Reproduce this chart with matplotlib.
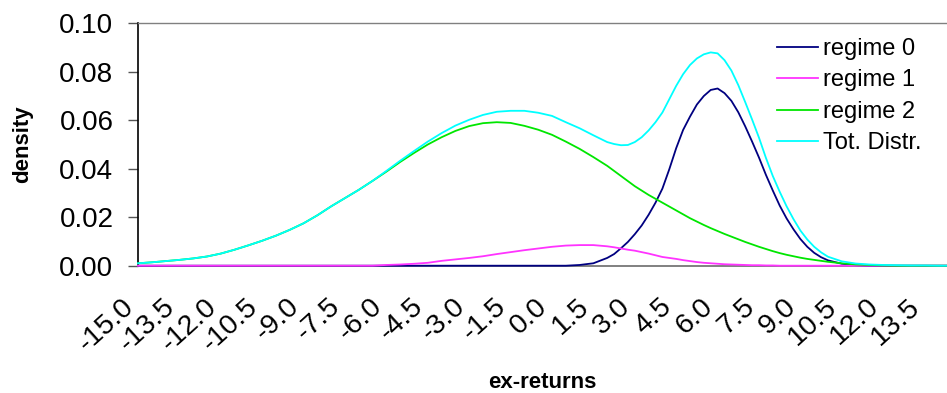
import matplotlib
matplotlib.use("Agg")
import matplotlib.pyplot as plt
import matplotlib.transforms as mtransforms
import numpy as np

plt.rcParams['font.family'] = ['Liberation Sans', 'DejaVu Sans']

# grid of ex-returns on which the densities are evaluated (finer around the right-hand peak)
ex_returns = np.concatenate([
    np.arange(-15.0, 2.0, 0.5),
    np.arange(2.0, 10.0, 0.25),
    np.arange(10.0, 14.51, 0.5),
])

regime_0 = [
    # -15.0 .. 1.5 (step 0.5)
    0.0, 0.0, 0.0, 0.0, 0.0, 0.0, 0.0, 0.0, 0.0, 0.0,
    0.0, 0.0, 0.0, 0.0, 0.0, 0.0, 0.0, 0.0, 0.0, 0.0,
    0.0, 0.0, 0.0, 0.0, 0.0, 0.0, 0.0, 0.0, 0.0, 0.0,
    0.0, 0.0, 0.0003, 0.0010,
    # 2.0 .. 9.75 (step 0.25)
    0.0032, 0.0048, 0.0072, 0.0098, 0.0130, 0.0166, 0.0210, 0.0260,
    0.0318, 0.0398, 0.0485, 0.0560, 0.0615, 0.0665, 0.0700, 0.0725,
    0.0731, 0.0712, 0.0680, 0.0633, 0.0575, 0.0512, 0.0446, 0.0375,
    0.0310, 0.0248, 0.0195, 0.0150, 0.0110, 0.0078, 0.0053, 0.0035,
    # 10.0 .. 14.5 (step 0.5)
    0.0022, 0.0008, 0.0002, 0.0, 0.0, 0.0, 0.0, 0.0, 0.0, 0.0,
]

regime_1 = [
    0.0, 0.0, 0.0, 0.0, 0.0, 0.0, 0.0, 0.0, 0.0, 0.0,
    0.0, 0.0, 0.0, 0.0, 0.0, 0.0, 0.0, 0.0, 0.0003, 0.0005,
    0.0008, 0.0012, 0.0020, 0.0026, 0.0032, 0.0039, 0.0048, 0.0056, 0.0064, 0.0071,
    0.0078, 0.0083, 0.0085, 0.0085,
    0.0080, 0.0076, 0.0071, 0.0066, 0.0062, 0.0056, 0.0050, 0.0043,
    0.0036, 0.0032, 0.0028, 0.0023, 0.0019, 0.0015, 0.0012, 0.0010,
    0.0008, 0.0006, 0.0005, 0.0004, 0.0003, 0.0002, 0.0002, 0.0001,
    0.0001, 0.0, 0.0, 0.0, 0.0, 0.0, 0.0, 0.0,
    0.0, 0.0, 0.0, 0.0, 0.0, 0.0, 0.0, 0.0, 0.0, 0.0,
]

regime_2 = [
    0.0010, 0.0014, 0.0019, 0.0024, 0.0030, 0.0038, 0.0050, 0.0066, 0.0084, 0.0103,
    0.0124, 0.0148, 0.0175, 0.0208, 0.0245, 0.0279, 0.0313, 0.0350, 0.0388, 0.0428,
    0.0465, 0.0500, 0.0530, 0.0556, 0.0576, 0.0588, 0.0592, 0.0589, 0.0577, 0.0561,
    0.0540, 0.0512, 0.0482, 0.0448,
    0.0412, 0.0391, 0.0370, 0.0349, 0.0328, 0.0310, 0.0292, 0.0276,
    0.0260, 0.0244, 0.0228, 0.0212, 0.0196, 0.0182, 0.0168, 0.0155,
    0.0143, 0.0131, 0.0120, 0.0109, 0.0098, 0.0088, 0.0078, 0.0069,
    0.0060, 0.0052, 0.0045, 0.0039, 0.0033, 0.0028, 0.0024, 0.0020,
    0.0016, 0.0010, 0.0005, 0.0003, 0.0001, 0.0, 0.0, 0.0, 0.0, 0.0,
]

tot_distr = [
    0.0010, 0.0014, 0.0019, 0.0024, 0.0030, 0.0038, 0.0050, 0.0066, 0.0084, 0.0103,
    0.0124, 0.0148, 0.0175, 0.0208, 0.0245, 0.0279, 0.0313, 0.0350, 0.0391, 0.0433,
    0.0473, 0.0512, 0.0547, 0.0578, 0.0602, 0.0622, 0.0635, 0.0639, 0.0639, 0.0631,
    0.0618, 0.0592, 0.0567, 0.0538,
    0.0510, 0.0502, 0.0497, 0.0498, 0.0510, 0.0530, 0.0558, 0.0592,
    0.0632, 0.0687, 0.0742, 0.0790, 0.0828, 0.0855, 0.0872, 0.0880,
    0.0876, 0.0848, 0.0805, 0.0745, 0.0675, 0.0603, 0.0528, 0.0445,
    0.0370, 0.0305, 0.0245, 0.0192, 0.0145, 0.0108, 0.0078, 0.0055,
    0.0037, 0.0018, 0.0009, 0.0005, 0.0003, 0.0002, 0.0001, 0.0001, 0.0, 0.0,
]

series_names = ["regime 0", "regime 1", "regime 2", "Tot. Distr."]
series_colors = ["#000080", "#ff33ff", "#00e600", "#00ffff"]

tick_values = np.arange(-15.0, 13.51, 1.5)
tick_labels = [f"{v:.1f}" for v in tick_values]
y_ticks = [0.00, 0.02, 0.04, 0.06, 0.08, 0.10]

W, H = 947, 393
fig = plt.figure(figsize=(W / 100, H / 100), dpi=100)
left_px, right_px, top_px, bottom_px = 138, 947, 23.3, 265.7
ax = fig.add_axes([left_px / W, 1 - bottom_px / H,
                   (right_px - left_px) / W, (bottom_px - top_px) / H])

for values, name, color in zip([regime_0, regime_1, regime_2, tot_distr],
                               series_names, series_colors):
    ax.plot(ex_returns, values, color=color, lw=1.3, label=name,
            clip_on=False, zorder=3)

ax.set_xlim(-15.0, -15.0 + (right_px - left_px) / 27.6)
ax.set_ylim(0.0, 0.10)

ax.set_yticks(y_ticks)
ax.set_yticklabels([f"{v:.2f}" for v in y_ticks], fontsize=20)
ax.tick_params(axis='y', direction='out', length=7.2, width=1.0,
               color='#555555', pad=10.5)

ax.set_xticks(tick_values)
ax.set_xticklabels(tick_labels, fontsize=20.5, rotation=42,
                   ha='right', va='center', rotation_mode='anchor')
ax.tick_params(axis='x', length=0, pad=27)
shift = mtransforms.ScaledTranslation(-8 / 100, 0, fig.dpi_scale_trans)
for lab in ax.get_xticklabels():
    lab.set_transform(lab.get_transform() + shift)

for side in ('top', 'bottom'):
    ax.spines[side].set_color('#808080')
ax.spines['top'].set_linewidth(1.0)
ax.spines['bottom'].set_linewidth(1.4)
ax.spines['left'].set_color('black')
ax.spines['left'].set_linewidth(1.2)
ax.spines['right'].set_visible(False)

ax.set_ylabel("density", fontsize=16, fontweight='bold')
ax.yaxis.set_label_coords((33 - left_px) / (right_px - left_px), 0.5)
ax.set_xlabel("ex-returns", fontsize=16, fontweight='bold', va='center')
ax.xaxis.set_label_coords(0.5, (bottom_px - 382) / (bottom_px - top_px))

leg = ax.legend(loc='upper left', bbox_to_anchor=(777 / W, 1 - 38 / H),
                bbox_transform=fig.transFigure, frameon=False, fontsize=17,
                borderpad=0, borderaxespad=0, handlelength=1.74,
                handletextpad=0.2, labelspacing=0.4)
for line in leg.get_lines():
    line.set_linewidth(1.3)

fig.savefig("out.png", dpi=100)
